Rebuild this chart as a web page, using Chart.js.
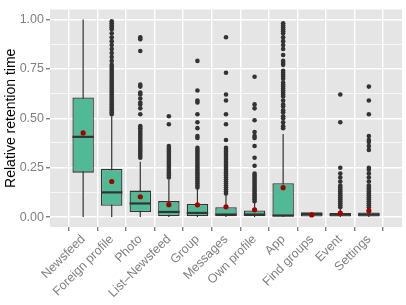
<!DOCTYPE html>
<html>
<head>
<meta charset="utf-8">
<script src="https://cdn.jsdelivr.net/npm/chart.js@4.4.1/dist/chart.umd.min.js"></script>
<style>
  html, body { margin: 0; padding: 0; background: #fff; }
  #wrap { width: 406px; height: 305px; }
</style>
</head>
<body>
<div id="wrap"><canvas id="chart"></canvas></div>
<script>
// Boxplot summary per page type
const categories = ['Newsfeed', 'Foreign profile', 'Photo', 'List\u2013Newsfeed', 'Group', 'Messages',
  'Own profile', 'App', 'Find groups', 'Event', 'Settings'];
const whiskerLow  = [0, 0, 0, 0, 0, 0, 0, 0, 0, 0, 0];
const q1          = [0.225, 0.057, 0.026, 0.005, 0.005, 0.005, 0.005, 0.003, 0.003, 0.003, 0.003];
const medians     = [0.406, 0.125, 0.069, 0.026, 0.021, 0.013, 0.013, 0.008, 0.015, 0.013, 0.013];
const q3          = [0.605, 0.244, 0.134, 0.081, 0.066, 0.050, 0.034, 0.171, 0.024, 0.021, 0.023];
const whiskerHigh = [1.0, 0.51, 0.28, 0.19, 0.15, 0.115, 0.075, 0.42, 0.024, 0.045, 0.045];
const means       = [0.426, 0.180, 0.103, 0.063, 0.062, 0.052, 0.037, 0.149, 0.011, 0.020, 0.032];
const outliers = [
  [],
  [0.99, 0.98, 0.97, 0.96, 0.95, 0.93, 0.91, 0.89, 0.87, 0.85, 0.83, 0.81, 0.79, 0.77, 0.76, 0.75, 0.74,
   0.73, 0.72, 0.71, 0.70, 0.69, 0.68, 0.67, 0.66, 0.65, 0.64, 0.63, 0.62, 0.61, 0.60, 0.59, 0.58, 0.57,
   0.56, 0.55, 0.54, 0.53, 0.52],
  [0.91, 0.90, 0.84, 0.67, 0.66, 0.63, 0.62, 0.60, 0.58, 0.57, 0.55, 0.52, 0.46, 0.45, 0.44, 0.43, 0.42,
   0.41, 0.40, 0.39, 0.38, 0.37, 0.36, 0.35, 0.34, 0.33, 0.32, 0.31, 0.30],
  [0.51, 0.47, 0.36, 0.35, 0.34, 0.33, 0.32, 0.31, 0.30, 0.29, 0.28, 0.27, 0.26, 0.25, 0.24, 0.23, 0.22,
   0.21, 0.20],
  [0.79, 0.64, 0.59, 0.58, 0.52, 0.48, 0.45, 0.41, 0.40, 0.35, 0.34, 0.33, 0.32, 0.31, 0.30, 0.29, 0.28,
   0.27, 0.26, 0.25, 0.24, 0.23, 0.22, 0.21, 0.20, 0.19, 0.18, 0.17, 0.16, 0.15],
  [0.91, 0.73, 0.62, 0.59, 0.52, 0.47, 0.39, 0.35, 0.34, 0.33, 0.32, 0.31, 0.30, 0.29, 0.28, 0.27, 0.26,
   0.25, 0.24, 0.23, 0.22, 0.21, 0.20, 0.19, 0.18, 0.17, 0.16, 0.15, 0.14, 0.13, 0.12],
  [0.71, 0.57, 0.55, 0.49, 0.43, 0.41, 0.40, 0.36, 0.30, 0.26, 0.22, 0.21, 0.20, 0.19, 0.18, 0.17, 0.16,
   0.15, 0.14, 0.13, 0.12, 0.11, 0.10, 0.09, 0.08],
  [0.98, 0.97, 0.96, 0.95, 0.94, 0.93, 0.91, 0.89, 0.87, 0.85, 0.82, 0.79, 0.78, 0.77, 0.74, 0.73, 0.72,
   0.71, 0.70, 0.68, 0.67, 0.66, 0.65, 0.64, 0.63, 0.62, 0.61, 0.59, 0.57, 0.56, 0.54, 0.53, 0.51, 0.50,
   0.48, 0.46, 0.45],
  [],
  [0.62, 0.48, 0.25, 0.22, 0.20, 0.18, 0.16, 0.15, 0.14, 0.13, 0.12, 0.11, 0.10, 0.09, 0.08, 0.07, 0.06, 0.05],
  [0.66, 0.59, 0.52, 0.41, 0.39, 0.38, 0.36, 0.34, 0.25, 0.24, 0.22, 0.20, 0.18, 0.16, 0.15, 0.14, 0.13,
   0.12, 0.11, 0.10, 0.09, 0.08, 0.07, 0.06, 0.05]
];
const yTicks = [0, 0.25, 0.5, 0.75, 1];
const yMinorTicks = [0.125, 0.375, 0.625, 0.875];

const boxFill = '#52b996';
const lineDark = '#333333';
const greyText = '#7f7f7f';

const boxData = categories.map((c, i) => ({ x: i, y: [q1[i], q3[i]] }));
const meanData = means.map((v, i) => ({ x: i, y: v }));
const outlierData = [];
outliers.forEach((vals, i) => vals.forEach(v => outlierData.push({ x: i, y: v })));

// grey panel behind the plot
const panelBg = {
  id: 'panelBg',
  beforeDraw(chart) {
    const a = chart.chartArea, ctx = chart.ctx;
    ctx.save();
    ctx.fillStyle = '#e5e5e5';
    ctx.fillRect(a.left, a.top, a.right - a.left, a.bottom - a.top);
    ctx.restore();
  }
};

// whiskers under the boxes, medians on top of them
const boxParts = {
  id: 'boxParts',
  beforeDatasetsDraw(chart) {
    const x = chart.scales.x, y = chart.scales.y, ctx = chart.ctx;
    ctx.save();
    ctx.strokeStyle = lineDark;
    ctx.lineWidth = 1.2;
    categories.forEach((c, i) => {
      const px = x.getPixelForValue(i);
      ctx.beginPath();
      ctx.moveTo(px, y.getPixelForValue(whiskerLow[i]));
      ctx.lineTo(px, y.getPixelForValue(whiskerHigh[i]));
      ctx.stroke();
    });
    ctx.restore();
  },
  afterDatasetDraw(chart, args) {
    if (args.index !== 0) return;
    const x = chart.scales.x, y = chart.scales.y, ctx = chart.ctx;
    const half = (x.getPixelForValue(1) - x.getPixelForValue(0)) * 0.375;
    ctx.save();
    ctx.strokeStyle = lineDark;
    ctx.lineWidth = 2.2;
    categories.forEach((c, i) => {
      const px = x.getPixelForValue(i), py = y.getPixelForValue(medians[i]);
      ctx.beginPath();
      ctx.moveTo(px - half, py);
      ctx.lineTo(px + half, py);
      ctx.stroke();
    });
    ctx.restore();
  }
};

new Chart(document.getElementById('chart'), {
  type: 'bar',
  data: {
    datasets: [
      {
        type: 'bar',
        data: boxData,
        backgroundColor: boxFill,
        borderColor: lineDark,
        borderWidth: 1.3,
        borderSkipped: false,
        categoryPercentage: 1,
        barPercentage: 0.75,
        order: 3
      },
      {
        type: 'scatter',
        data: outlierData,
        pointRadius: 2.3,
        pointBackgroundColor: lineDark,
        pointBorderWidth: 0,
        order: 2
      },
      {
        type: 'scatter',
        data: meanData,
        pointRadius: 2.6,
        pointBackgroundColor: '#a30000',
        pointBorderWidth: 0,
        order: 1
      }
    ]
  },
  options: {
    responsive: true,
    maintainAspectRatio: false,
    animation: false,
    layout: { padding: { top: 0, right: 1, left: 0, bottom: 0 } },
    plugins: {
      legend: { display: false },
      tooltip: { enabled: false }
    },
    scales: {
      x: {
        type: 'linear',
        min: -0.6,
        max: categories.length - 0.4,
        afterBuildTicks: s => { s.ticks = categories.map((c, i) => ({ value: i })); },
        afterFit: s => { s.height = 78; },
        ticks: {
          autoSkip: false,
          minRotation: 45,
          maxRotation: 45,
          padding: 1,
          color: greyText,
          font: { family: 'Liberation Sans, Arial, sans-serif', size: 12.5 },
          callback: v => categories[v]
        },
        grid: { color: '#ffffff', lineWidth: 1.4, tickColor: greyText, tickLength: 4 },
        border: { display: false }
      },
      y: {
        min: -0.05,
        max: 1.05,
        afterBuildTicks: s => {
          s.ticks = yTicks.concat(yMinorTicks).sort((a, b) => a - b).map(v => ({ value: v }));
        },
        afterFit: s => { s.width = 50; },
        ticks: {
          autoSkip: false,
          padding: 2,
          color: greyText,
          font: { family: 'Liberation Sans, Arial, sans-serif', size: 12.5 },
          callback: v => yTicks.includes(v) ? v.toFixed(2) : ''
        },
        grid: {
          color: '#ffffff',
          lineWidth: c => yTicks.includes(c.tick.value) ? 1.4 : 0.7,
          tickColor: c => yTicks.includes(c.tick.value) ? greyText : 'rgba(0,0,0,0)',
          tickLength: 4
        },
        border: { display: false },
        title: {
          display: true,
          text: 'Relative retention time',
          color: '#000',
          padding: { top: 3, bottom: 0 },
          font: { family: 'Liberation Sans, Arial, sans-serif', size: 14 }
        }
      }
    }
  },
  plugins: [panelBg, boxParts]
});
</script>
</body>
</html>
